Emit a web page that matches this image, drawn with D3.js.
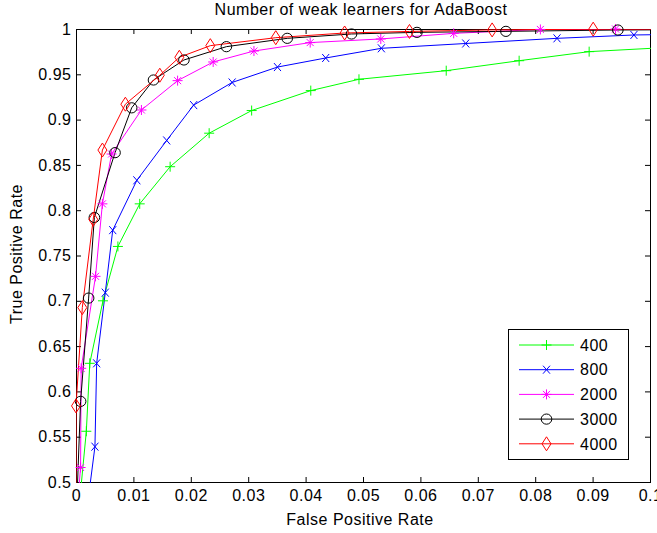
<!DOCTYPE html>
<html>
<head>
<meta charset="utf-8">
<script src="https://cdn.jsdelivr.net/npm/d3@7"></script>
<style>
  body { margin: 0; background: #fff; }
  text { font-family: "Liberation Sans", Arial, sans-serif; font-size: 16px; letter-spacing: 0.5px; fill: #000; }
</style>
</head>
<body>
<svg width="657" height="533"></svg>
<script>
// data
const xTicks = [0, 0.01, 0.02, 0.03, 0.04, 0.05, 0.06, 0.07, 0.08, 0.09, 0.1];
const xTickLabels = ["0", "0.01", "0.02", "0.03", "0.04", "0.05", "0.06", "0.07", "0.08", "0.09", "0.1"];
const yTicks = [0.5, 0.55, 0.6, 0.65, 0.7, 0.75, 0.8, 0.85, 0.9, 0.95, 1];
const yTickLabels = ["0.5", "0.55", "0.6", "0.65", "0.7", "0.75", "0.8", "0.85", "0.9", "0.95", "1"];

const seriesNames = ["400", "800", "2000", "3000", "4000"];
const seriesColors = ["#00ff00", "#0000ff", "#ff00ff", "#000000", "#ff0000"];
const seriesMarkers = ["plus", "x", "star", "circle", "diamond"];

const fpr400 = [0.0005, 0.0018, 0.0024, 0.0047, 0.0073, 0.0111, 0.0164, 0.0232, 0.0306, 0.0409, 0.0493, 0.0645, 0.0772, 0.0894, 0.11];
const tpr400 = [0.47, 0.556, 0.631, 0.700, 0.760, 0.807, 0.848, 0.885, 0.910, 0.932, 0.9445, 0.954, 0.965, 0.975, 0.982];

const fpr800 = [0.0019, 0.0033, 0.0036, 0.0051, 0.0064, 0.0106, 0.0158, 0.0205, 0.0272, 0.0351, 0.0435, 0.0532, 0.0679, 0.0838, 0.0972, 0.115];
const tpr800 = [0.47, 0.539, 0.631, 0.709, 0.778, 0.833, 0.877, 0.916, 0.941, 0.958, 0.968, 0.9787, 0.984, 0.9897, 0.9934, 0.995];

const fpr2000 = [0.0002, 0.0008, 0.0009, 0.0034, 0.0046, 0.0062, 0.0114, 0.0177, 0.0239, 0.0310, 0.0408, 0.0531, 0.0658, 0.0809, 0.0940, 0.12];
const tpr2000 = [0.47, 0.516, 0.6255, 0.727, 0.807, 0.862, 0.9106, 0.943, 0.9636, 0.9757, 0.985, 0.989, 0.9952, 0.9995, 1.0, 1.0];

const fpr3000 = [0.0001, 0.0008, 0.0022, 0.0032, 0.0068, 0.0097, 0.0135, 0.0188, 0.0262, 0.0368, 0.0480, 0.0594, 0.0749, 0.0944, 0.12];
const tpr3000 = [0.47, 0.589, 0.703, 0.792, 0.8635, 0.913, 0.9437, 0.9658, 0.9805, 0.9897, 0.9945, 0.9963, 0.9974, 0.9989, 0.9995];

const fpr4000 = [0.0, 0.0, 0.0011, 0.0030, 0.0046, 0.0086, 0.0146, 0.0180, 0.0234, 0.0348, 0.0468, 0.0581, 0.0725, 0.0901, 0.12];
const tpr4000 = [0.47, 0.584, 0.6925, 0.790, 0.8664, 0.917, 0.949, 0.9688, 0.9816, 0.9904, 0.9956, 0.9973, 0.9990, 0.9998, 1.0];

const fprs = [fpr400, fpr800, fpr2000, fpr3000, fpr4000];
const tprs = [tpr400, tpr800, tpr2000, tpr3000, tpr4000];

const series = seriesNames.map((name, i) => ({
  name,
  color: seriesColors[i],
  marker: seriesMarkers[i],
  points: fprs[i].map((x, j) => ({x, y: tprs[i][j]}))
}));

// layout
const plotLeft = 76, plotRight = 650, plotTop = 29, plotBottom = 482;

const xScale = d3.scaleLinear().domain([0, 0.1]).range([plotLeft, plotRight]);
const yScale = d3.scaleLinear().domain([0.5, 1]).range([plotBottom, plotTop]);

const svg = d3.select("svg");

function markerPath(type) {
  switch (type) {
    case "plus": return "M-5,0H5M0,-5V5";
    case "x": return "M-3.5,-4L3.5,4M-3.5,4L3.5,-4";
    case "star": return "M-5,0H5M0,-5V5M-3.5,-3.5L3.5,3.5M-3.5,3.5L3.5,-3.5";
    case "circle": return "M-5.3,0A5.3,5.1 0 1,0 5.3,0A5.3,5.1 0 1,0 -5.3,0";
    case "diamond": return "M0,-7L4.5,0L0,7L-4.5,0Z";
  }
}

svg.append("defs").append("clipPath")
  .attr("id", "plot-clip")
  .append("rect")
  .attr("x", plotLeft).attr("y", plotTop)
  .attr("width", plotRight - plotLeft + 1).attr("height", plotBottom - plotTop + 1);

// axes, ticks pointing inwards on all four sides
const fmtX = d => xTickLabels[xTicks.indexOf(d)];
const fmtY = d => yTickLabels[yTicks.indexOf(d)];

svg.append("g")
  .attr("transform", `translate(0,${plotBottom})`)
  .call(d3.axisBottom(xScale).tickValues(xTicks).tickFormat(fmtX).tickSizeInner(-5).tickSizeOuter(0).tickPadding(7.5))
  .call(g => g.select(".domain").remove());

svg.append("g")
  .attr("transform", `translate(0,${plotTop})`)
  .call(d3.axisTop(xScale).tickValues(xTicks).tickFormat("").tickSizeInner(-5).tickSizeOuter(0))
  .call(g => g.select(".domain").remove());

svg.append("g")
  .attr("transform", `translate(${plotLeft},0)`)
  .call(d3.axisLeft(yScale).tickValues(yTicks).tickFormat(fmtY).tickSizeInner(-5).tickSizeOuter(0).tickPadding(4.5))
  .call(g => g.select(".domain").remove());

svg.append("g")
  .attr("transform", `translate(${plotRight},0)`)
  .call(d3.axisRight(yScale).tickValues(yTicks).tickFormat("").tickSizeInner(-5).tickSizeOuter(0))
  .call(g => g.select(".domain").remove());

svg.selectAll(".tick line").attr("stroke", "#000");

svg.append("rect")
  .attr("x", plotLeft + 0.5).attr("y", plotTop + 0.5)
  .attr("width", plotRight - plotLeft).attr("height", plotBottom - plotTop)
  .attr("fill", "none")
  .attr("stroke", "#000");

// lines
const line = d3.line()
  .x(d => xScale(d.x))
  .y(d => yScale(d.y));

const plot = svg.append("g");

plot.selectAll(".series-line")
  .data(series)
  .join("path")
  .attr("class", "series-line")
  .attr("clip-path", "url(#plot-clip)")
  .attr("d", d => line(d.points))
  .attr("fill", "none")
  .attr("stroke", d => d.color)
  .attr("stroke-width", 1);

// markers (only for points inside the axes)
series.forEach(s => {
  plot.append("g")
    .selectAll("path")
    .data(s.points.filter(p => p.x >= 0 && p.x <= 0.1 && p.y >= 0.5 && p.y <= 1))
    .join("path")
    .attr("transform", p => `translate(${xScale(p.x)},${yScale(p.y)})`)
    .attr("d", markerPath(s.marker))
    .attr("fill", "none")
    .attr("stroke", s.color)
    .attr("stroke-width", 1);
});

// titles
svg.append("text")
  .attr("x", 361).attr("y", 15)
  .style("text-anchor", "middle")
  .text("Number of weak learners for AdaBoost");

svg.append("text")
  .attr("x", 360).attr("y", 525)
  .style("text-anchor", "middle")
  .text("False Positive Rate");

svg.append("text")
  .attr("transform", "translate(22,254) rotate(-90)")
  .style("text-anchor", "middle")
  .text("True Positive Rate");

// legend
const legend = svg.append("g");
legend.append("rect")
  .attr("x", 508.5).attr("y", 329.5)
  .attr("width", 120).attr("height", 130)
  .attr("fill", "#fff")
  .attr("stroke", "#000");

const rows = legend.selectAll(".row")
  .data(series)
  .join("g")
  .attr("class", "row")
  .attr("transform", (d, i) => `translate(0,${345 + i * 24.7})`);

rows.append("line")
  .attr("x1", 519).attr("x2", 574)
  .attr("stroke", d => d.color);

rows.append("path")
  .attr("transform", "translate(546.5,0)")
  .attr("d", d => markerPath(d.marker))
  .attr("fill", "none")
  .attr("stroke", d => d.color);

rows.append("text")
  .attr("x", 580)
  .attr("dy", "0.36em")
  .text(d => d.name);
</script>
</body>
</html>
